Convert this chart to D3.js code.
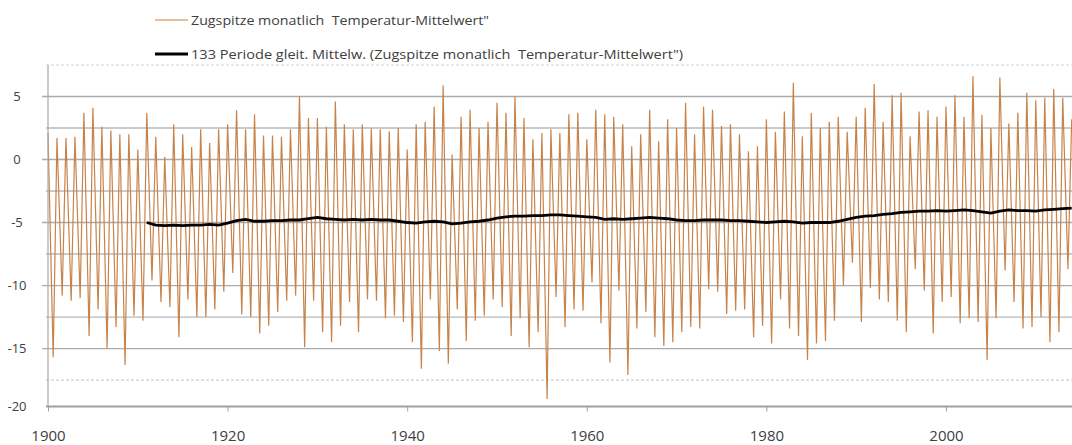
<!DOCTYPE html>
<html>
<head>
<meta charset="utf-8">
<script src="https://cdn.jsdelivr.net/npm/d3@7"></script>
<style>
	body { margin: 0; background: #fff; }
	text { font-family: "Open Sans", sans-serif; fill: #404040; }
</style>
</head>
<body>
<div id="chart"></div>
<script>
"use strict";

// values, one summer peak and one winter low per year
var firstYear = 1900;
var summerPeaks = [
	2.1, 1.7, 1.7, 1.8, 3.7, 4.1, 2.6, 2.3, 2.0, 2.0,      // 1900-1909
	0.8, 3.7, 1.8, 0.2, 2.8, 2.0, 1.0, 2.4, 1.3, 2.4,      // 1910-1919
	2.8, 3.9, 2.4, 3.6, 1.9, 1.9, 1.8, 2.4, 5.0, 3.3,      // 1920-1929
	3.3, 2.6, 4.6, 2.8, 2.4, 2.8, 2.45, 2.4, 2.25, 2.5,    // 1930-1939
	0.8, 2.8, 3.0, 4.2, 5.9, 0.4, 3.4, 3.95, 2.5, 3.0,     // 1940-1949
	4.5, 3.7, 5.0, 3.3, 1.6, 2.1, 2.4, 2.1, 3.6, 3.7,      // 1950-1959
	1.6, 3.95, 3.6, 3.4, 2.8, 1.05, 2.0, 3.95, 1.45, 3.2,  // 1960-1969
	2.5, 4.5, 2.0, 4.2, 3.95, 2.65, 2.8, 2.0, 0.66, 1.05,  // 1970-1979
	3.2, 2.2, 3.8, 6.1, 1.85, 3.7, 2.5, 3.0, 3.4, 2.2,     // 1980-1989
	3.4, 4.1, 6.0, 3.0, 5.1, 5.3, 1.85, 3.8, 3.9, 3.4,     // 1990-1999
	4.2, 5.1, 3.4, 6.6, 3.55, 2.5, 6.5, 2.85, 3.7, 5.3,    // 2000-2009
	4.7, 4.9, 5.6, 4.9, 3.2                                // 2010-2014
];
// winter following each summer (jan/feb of the next year)
var winterLows = [
	-15.7, -10.8, -11.2, -11.0, -14.0, -11.9, -15.0, -13.3, -16.3, -12.4,  // 1900-1909
	-12.8, -9.6, -11.3, -11.7, -14.1, -11.1, -12.5, -12.5, -11.9, -10.5,   // 1910-1919
	-9.0, -12.3, -12.5, -13.8, -13.2, -12.1, -11.2, -10.8, -14.9, -11.2,   // 1920-1929
	-13.7, -14.5, -13.2, -11.3, -13.7, -11.1, -11.2, -12.6, -12.4, -12.9,  // 1930-1939
	-14.5, -16.6, -11.1, -15.2, -16.2, -11.9, -14.4, -12.8, -12.4, -11.1,  // 1940-1949
	-11.7, -14.0, -12.6, -14.9, -13.7, -19.0, -10.9, -13.3, -11.9, -12.0,  // 1950-1959
	-9.75, -13.0, -16.1, -10.4, -17.1, -13.4, -12.1, -14.1, -14.8, -14.5,  // 1960-1969
	-13.7, -13.3, -13.4, -10.3, -10.5, -12.25, -12.0, -11.9, -14.1, -13.2, // 1970-1979
	-14.6, -11.1, -13.4, -14.0, -15.9, -14.6, -14.4, -12.8, -10.0, -8.2,   // 1980-1989
	-12.9, -10.2, -11.1, -11.3, -12.8, -13.7, -8.7, -10.4, -13.8, -11.3,   // 1990-1999
	-10.9, -13.0, -12.6, -12.9, -15.9, -12.6, -8.8, -11.3, -13.4, -13.3,   // 2000-2009
	-12.5, -14.5, -13.7, -8.7                                              // 2010-2013
];

// 133 month moving average, one reading per year
var maStart = 1911;
var movingAvg = [
	-5.0, -5.2, -5.25, -5.2, -5.25, -5.2, -5.2, -5.15, -5.2,              // 1911-1919
	-5.05, -4.85, -4.75, -4.9, -4.9, -4.85, -4.85, -4.8, -4.8, -4.7,      // 1920-1929
	-4.6, -4.7, -4.75, -4.8, -4.75, -4.8, -4.75, -4.8, -4.8, -4.9,        // 1930-1939
	-5.0, -5.05, -4.95, -4.9, -4.95, -5.1, -5.05, -4.95, -4.9, -4.8,      // 1940-1949
	-4.65, -4.55, -4.5, -4.5, -4.45, -4.45, -4.4, -4.4, -4.45, -4.5,      // 1950-1959
	-4.55, -4.6, -4.75, -4.7, -4.75, -4.7, -4.65, -4.6, -4.65, -4.7,      // 1960-1969
	-4.8, -4.85, -4.85, -4.8, -4.8, -4.8, -4.85, -4.85, -4.9, -4.95,      // 1970-1979
	-5.0, -4.95, -4.9, -4.95, -5.05, -5.0, -5.0, -5.0, -4.9, -4.75,       // 1980-1989
	-4.6, -4.5, -4.45, -4.35, -4.3, -4.2, -4.15, -4.1, -4.1, -4.05,       // 1990-1999
	-4.1, -4.05, -4.0, -4.05, -4.15, -4.25, -4.1, -4.0, -4.05, -4.05,     // 2000-2009
	-4.1, -4.0, -3.95, -3.9, -3.85                                        // 2010-2014
];

var xTicks = [1900, 1920, 1940, 1960, 1980, 2000];
var yTickValues = [5, 0, -5, -10, -15, -19.6]; // axis floor sits a bit above -20 in the original
var yTickLabels = ["5", "0", "-5", "-10", "-15", "-20"];
var minorGrid = [2.5, -2.5, -7.5, -12.5];
var legendLabels = [
	"Zugspitze monatlich  Temperatur-Mittelwert\"",
	"133 Periode gleit. Mittelw. (Zugspitze monatlich  Temperatur-Mittelwert\")"
];

var width = 1072, height = 445;
var lineColor = "#c8834a";

var svg = d3.select("#chart")
	.append("svg")
	.attr("width", width)
	.attr("height", height);

var x = d3.scaleLinear().domain([1900, 2014.2]).range([48, 1073.5]);
var y = d3.scaleLinear().domain([-19.6, 7.5]).range([406.5, 65]);

// == GRID ==
var grid = svg.append("g");
grid.selectAll("line.major")
	.data(yTickValues.slice(0, 5))
	.enter().append("line")
	.attr("x1", 42).attr("x2", width)
	.attr("y1", (d) => y(d)).attr("y2", (d) => y(d))
	.style("stroke", "#ababab").style("stroke-width", 1.3);
grid.selectAll("line.minor")
	.data(minorGrid)
	.enter().append("line")
	.attr("x1", 46).attr("x2", width)
	.attr("y1", (d) => y(d)).attr("y2", (d) => y(d))
	.style("stroke", "#b8b8b8").style("stroke-width", 1.3);
// dashed ones: -17.5 and the top border
grid.selectAll("line.dash")
	.data([-17.5, 7.5])
	.enter().append("line")
	.attr("x1", 46).attr("x2", width)
	.attr("y1", (d) => y(d)).attr("y2", (d) => y(d))
	.style("stroke", "#cfcfcf").style("stroke-width", 1.2)
	.style("stroke-dasharray", "3,2");

// == SERIES ==
var monthly = [];
summerPeaks.forEach(function (v, i) {
	monthly.push({ t: firstYear + i, v: v });
	if (i < winterLows.length) monthly.push({ t: firstYear + i + 0.58, v: winterLows[i] });
});

var line = d3.line()
	.x((d) => x(d.t))
	.y((d) => y(d.v));

svg.append("path")
	.datum(monthly)
	.attr("d", line)
	.style("fill", "none")
	.style("stroke", lineColor)
	.style("stroke-width", 1.2)
	.style("stroke-linejoin", "miter");

var ma = movingAvg.map(function (v, i) { return { t: maStart + i, v: v }; });
svg.append("path")
	.datum(ma)
	.attr("d", line)
	.style("fill", "none")
	.style("stroke", "#000")
	.style("stroke-width", 2.8);

// == AXES ==
svg.append("line")
	.attr("x1", 48).attr("x2", 48)
	.attr("y1", y(7.5)).attr("y2", y(-19.6))
	.style("stroke", "#a8a8a8").style("stroke-width", 1.2);

var yAxis = svg.append("g")
	.attr("transform", "translate(48,0)")
	.call(d3.axisLeft(y)
		.tickValues(yTickValues)
		.tickFormat((d, i) => yTickLabels[i])
		.tickSize(0));
yAxis.select(".domain").remove();
yAxis.selectAll("text")
	.attr("x", -31)
	.style("text-anchor", "middle")
	.style("font-size", "13px")
	.style("fill", "#404040");

svg.append("line")
	.attr("x1", 46).attr("x2", width)
	.attr("y1", y(-19.6)).attr("y2", y(-19.6))
	.style("stroke", "#a0a0a0").style("stroke-width", 2);

var xAxis = svg.append("g")
	.attr("transform", "translate(0," + y(-19.6) + ")")
	.call(d3.axisBottom(x)
		.tickValues(xTicks)
		.tickFormat(d3.format("d"))
		.tickSize(5));
xAxis.select(".domain").remove();
xAxis.selectAll("line").style("stroke", "#a0a0a0");
xAxis.selectAll("text")
	.attr("y", 34)
	.attr("dy", null)
	.style("font-size", "15px")
	.style("fill", "#404040");

// == LEGEND ==
// the second label is set wider in the original, so stretch both to the measured spans
var legendWidths = [298, 492];
var legend = svg.append("g");
legend.selectAll("line")
	.data(legendLabels)
	.enter().append("line")
	.attr("x1", 155).attr("x2", 188)
	.attr("y1", (d, i) => i ? 54 : 20).attr("y2", (d, i) => i ? 54 : 20)
	.style("stroke", (d, i) => i ? "#000" : "#dcaa80")
	.style("stroke-width", (d, i) => i ? 3 : 1.5);
legend.selectAll("text")
	.data(legendLabels)
	.enter().append("text")
	.attr("x", 191)
	.attr("y", (d, i) => i ? 59 : 25)
	.attr("textLength", (d, i) => legendWidths[i])
	.attr("lengthAdjust", "spacingAndGlyphs")
	.style("white-space", "pre")
	.style("font-size", "13px")
	.text((d) => d);
</script>
</body>
</html>
